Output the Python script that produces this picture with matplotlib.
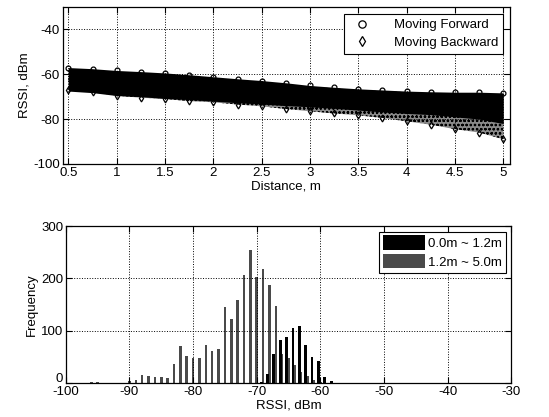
import numpy as np
import matplotlib
matplotlib.use('Agg')
import matplotlib.pyplot as plt
from matplotlib.transforms import ScaledTranslation

plt.rcParams['font.family'] = ['Liberation Sans', 'DejaVu Sans']
plt.rcParams['font.size'] = 9
plt.rcParams['hatch.linewidth'] = 0.6
plt.rcParams['axes.unicode_minus'] = False

# RSSI vs distance: edges of the measured point clouds (dBm)
dist = [0.5, 0.75, 1.0, 1.25, 1.5, 1.75, 2.0, 2.25, 2.5, 2.75,
        3.0, 3.25, 3.5, 3.75, 4.0, 4.25, 4.5, 4.75, 5.0]
fwd_hi = [-57.0, -57.5, -58.3, -58.8, -59.4, -60.2, -61.1, -62.0, -62.8, -63.8,
          -65.0, -65.8, -66.5, -67.0, -67.5, -67.8, -68.0, -68.0, -68.3]
fwd_lo = [-67.5, -68.2, -69.5, -70.0, -70.8, -71.3, -72.0, -72.7, -73.3, -74.0,
          -74.5, -75.2, -76.0, -76.8, -77.5, -78.0, -79.0, -80.0, -82.0]
bwd_hi = [-58.0, -58.5, -59.0, -59.5, -60.0, -61.0, -62.0, -62.8, -63.5, -64.5,
          -65.5, -66.3, -67.0, -67.5, -68.0, -68.5, -69.0, -69.0, -69.0]
bwd_lo = [-67.0, -68.0, -69.5, -70.5, -71.0, -72.0, -72.5, -73.5, -74.3, -75.5,
          -76.5, -77.5, -78.3, -79.5, -81.0, -82.5, -84.5, -86.0, -89.0]

# RSSI histogram, 1 dBm bins
bins = np.arange(-96, -57)
near_counts = [0, 0, 0, 0, 0, 0, 0, 0, 0, 0,
               0, 0, 0, 0, 0, 0, 0, 0, 0, 0,
               0, 0, 0, 0, 0, 0, 0, 2, 17, 55,
               82, 88, 105, 110, 72, 50, 42, 12, 3]
far_counts = [1, 1, 0, 0, 0, 0, 3, 6, 16, 14,
              12, 12, 9, 36, 70, 51, 48, 47, 72, 61,
              66, 146, 123, 158, 206, 255, 203, 219, 188, 147,
              55, 47, 35, 21, 13, 5, 2, 0, 0]


def style_axes(ax):
    ax.tick_params(direction='in', top=True, right=True, length=4, width=0.8,
                   labelsize=9.5, pad=2)
    ax.grid(True, linestyle=':', color='black', linewidth=0.7)
    ax.set_axisbelow(False)
    for s in ax.spines.values():
        s.set_linewidth(0.9)


fig = plt.figure(figsize=(5.49, 4.17), dpi=100)

# top: RSSI vs distance
ax1 = fig.add_axes([0.114, 0.607, 0.815, 0.376])
ax1.fill_between(dist, bwd_lo, bwd_hi, facecolor='#8a8a8a', edgecolor='black',
                 hatch='oooo', linewidth=0, zorder=2)
ax1.fill_between(dist, fwd_lo, fwd_hi, color='black', linewidth=0, zorder=3)
ax1.plot(dist, fwd_hi, 'o', mfc='none', mec='black', ms=3.5, mew=0.9,
         zorder=4, label='Moving Forward')
ax1.plot(dist, bwd_lo, 'd', mfc='none', mec='black', ms=3.5, mew=0.9,
         zorder=4, label='Moving Backward')
ax1.set_xlim(0.44, 5.07)
ax1.set_ylim(-100, -30)
ax1.set_xticks(np.arange(0.5, 5.01, 0.5))
ax1.set_xticklabels(['0.5', '1', '1.5', '2', '2.5', '3', '3.5', '4', '4.5', '5'])
ax1.set_yticks([-100, -80, -60, -40])
ax1.set_xlabel('Distance, m', fontsize=9.5, labelpad=1)
ax1.set_ylabel('RSSI, dBm', fontsize=9.5, labelpad=2)
style_axes(ax1)
leg1 = ax1.legend(loc='upper right', fancybox=False, framealpha=1,
                  edgecolor='black', fontsize=9.5, handletextpad=1.4,
                  borderaxespad=0.5, labelspacing=0.4, markerscale=1.5)
leg1.get_frame().set_linewidth(0.8)
leg1.set_zorder(10)

# bottom: histogram
ax2 = fig.add_axes([0.120, 0.0815, 0.811, 0.376])
ax2.bar(bins, far_counts, width=0.4, color='#4a4a4a', linewidth=0,
        zorder=2, label='1.2m ~ 5.0m')
ax2.bar(bins - 0.3, near_counts, width=0.45, color='black', linewidth=0,
        zorder=3, label='0.0m ~ 1.2m')
ax2.set_xlim(-100, -30)
ax2.set_ylim(0, 300)
ax2.set_xticks(np.arange(-100, -29, 10))
ax2.set_yticks([0, 100, 200, 300])
ax2.set_xlabel('RSSI, dBm', fontsize=9.5, labelpad=1)
ax2.set_ylabel('Frequency', fontsize=9.5, labelpad=2)
style_axes(ax2)
# lift the "0" label so it clears the "-100" below it
zero_lab = ax2.get_yticklabels()[0]
zero_lab.set_transform(zero_lab.get_transform()
                       + ScaledTranslation(0, 4 / 72, fig.dpi_scale_trans))
h, l = ax2.get_legend_handles_labels()
leg2 = ax2.legend(h[::-1], l[::-1], loc='upper right', fancybox=False,
                  framealpha=1, edgecolor='black', fontsize=9.5,
                  handlelength=3.2, handleheight=1.3, handletextpad=0.2,
                  borderaxespad=0.4, labelspacing=0.3, borderpad=0.3)
leg2.get_frame().set_linewidth(0.8)
leg2.set_zorder(10)

fig.savefig('out.png', dpi=100)
